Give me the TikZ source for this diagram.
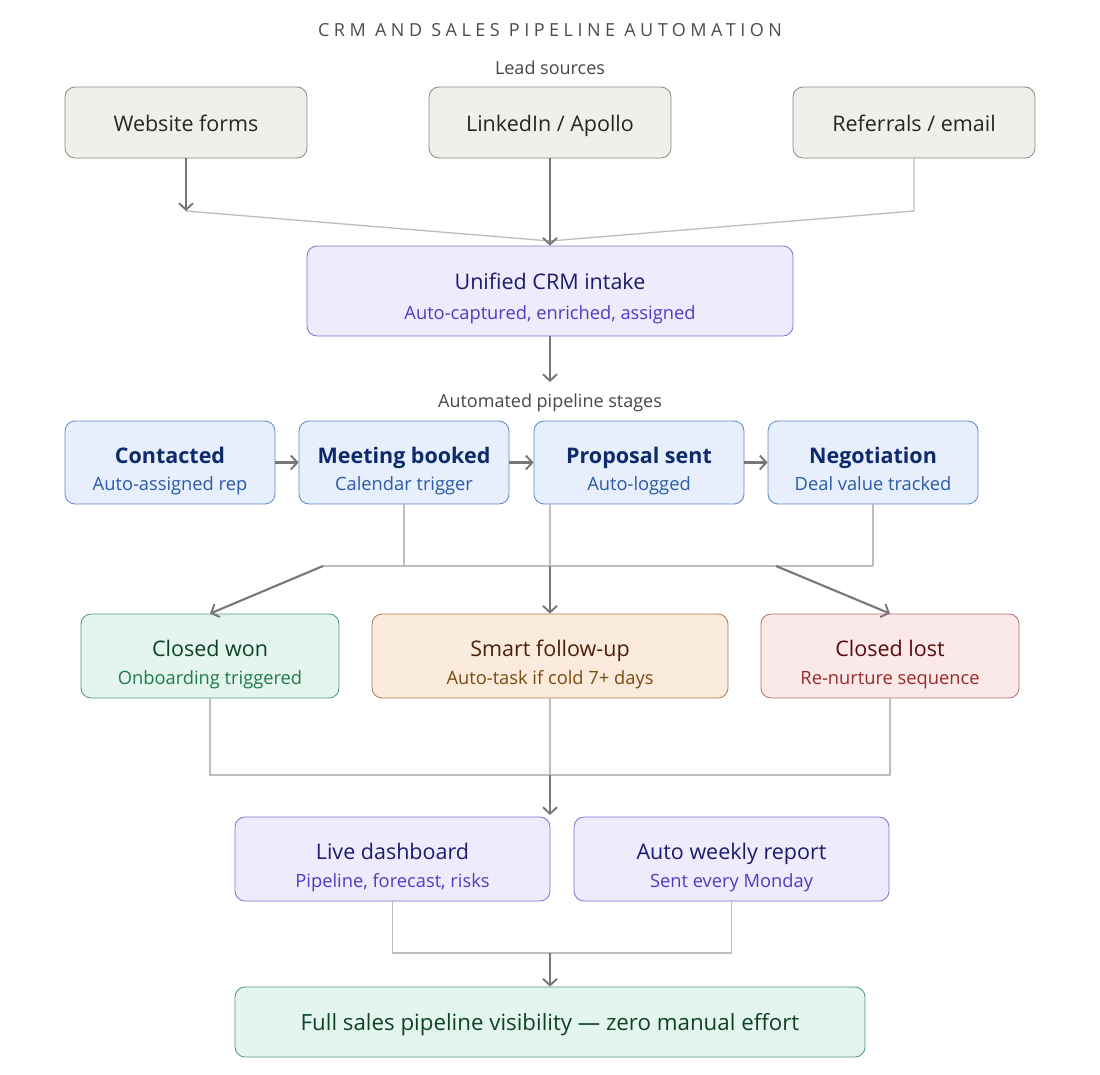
\documentclass[tikz,border=0pt]{standalone}
\usepackage{fontspec}
\setmainfont{Open Sans}
\usetikzlibrary{arrows.meta}
\definecolor{dk}{HTML}{777777}
\definecolor{lt}{HTML}{BDBDBD}
\definecolor{srcfill}{HTML}{F1EFEA}
\definecolor{srcdraw}{HTML}{8C8A86}
\definecolor{lavfill}{HTML}{EEEBFD}
\definecolor{lavdraw}{HTML}{7E72D4}
\definecolor{lavtitle}{HTML}{1E1A6E}
\definecolor{lavsub}{HTML}{4D3DC0}
\definecolor{bluefill}{HTML}{E6EFFB}
\definecolor{bluedraw}{HTML}{5C88C9}
\definecolor{bluetitle}{HTML}{0D2A6B}
\definecolor{bluesub}{HTML}{2A5AA8}
\definecolor{grnfill}{HTML}{E3F5EE}
\definecolor{grndraw}{HTML}{4F9A72}
\definecolor{grntitle}{HTML}{0D4226}
\definecolor{grnsub}{HTML}{1E7A4A}
\definecolor{orfill}{HTML}{FAEBDC}
\definecolor{ordraw}{HTML}{B07A50}
\definecolor{ortitle}{HTML}{4A2008}
\definecolor{orsub}{HTML}{7A4A10}
\definecolor{rdfill}{HTML}{FBE9EA}
\definecolor{rddraw}{HTML}{C0666A}
\definecolor{rdtitle}{HTML}{5A0A0A}
\definecolor{rdsub}{HTML}{9A2A2A}
\begin{document}
\begin{tikzpicture}[x=1pt,y=-1pt,
  box/.style={rounded corners=10pt, line width=0.8pt, inner sep=0pt, align=center},
  src/.style={box, fill=srcfill, draw=srcdraw},
  lav/.style={box, fill=lavfill, draw=lavdraw},
  blu/.style={box, fill=bluefill, draw=bluedraw},
  grn/.style={box, fill=grnfill, draw=grndraw},
  orn/.style={box, fill=orfill, draw=ordraw},
  red/.style={box, fill=rdfill, draw=rddraw},
  txt/.style={anchor=base, inner sep=0pt},
  ttl/.style={txt, font=\fontsize{21.5}{25}\selectfont},
  sub/.style={txt, font=\fontsize{18.3}{22}\selectfont},
  arr/.style={draw=dk, line width=2.1pt, -{Straight Barb[length=6.5pt,width=14pt,line width=1.9pt]}},
  ln/.style={draw=lt, line width=1.3pt},
  lbl/.style={txt, font=\fontsize{18}{22}\selectfont, text=black!72}
]
\useasboundingbox (0,0) rectangle (1100,1074);
\fill[white] (0,0) rectangle (1100,1074);

\node[txt, font=\fontsize{18}{22}\selectfont\addfontfeatures{LetterSpace=25}, text=black!70] (title) at (550,36) {CRM AND SALES PIPELINE AUTOMATION};
\node[lbl] (leadlbl) at (550,74) {Lead sources};

% sources
\node[src, minimum width=242pt, minimum height=71pt] (web) at (186,122.5) {};
\node[src, minimum width=242pt, minimum height=71pt] (lnk) at (550,122.5) {};
\node[src, minimum width=242pt, minimum height=71pt] (ref) at (914,122.5) {};
\node[ttl, text=black!85] (webT) at (186,131) {Website forms};
\node[ttl, text=black!85] (lnkT) at (550,131) {LinkedIn / Apollo};
\node[ttl, text=black!85] (refT) at (914,131) {Referrals / email};

% intake
\node[lav, minimum width=486pt, minimum height=90pt] (crm) at (550,291) {};
\node[ttl, text=lavtitle] (crmT) at (550,289) {Unified CRM intake};
\node[sub, text=lavsub] (crmS) at (550,319) {Auto-captured, enriched, assigned};

\coordinate (webend) at (186,211);
\coordinate (refend) at (914,211);
\coordinate (merge) at (550,241);
\draw[ln] (webend) -- (merge);
\draw[ln] (ref.south) -- (refend) -- (merge);
\draw[arr] (web.south) -- (webend);
\draw[arr] (lnk.south) -- (crm.north);

\node[lbl] (stagelbl) at (550,407) {Automated pipeline stages};
\draw[arr] (crm.south) -- (550,382);

% stages
\foreach \n/\x/\t/\s in {c1/170/Contacted/Auto-assigned rep, c2/404/Meeting booked/Calendar trigger, c3/639/Proposal sent/Auto-logged, c4/873/Negotiation/Deal value tracked}{
  \node[blu, minimum width=210pt, minimum height=83pt] (\n) at (\x,462.5) {};
  \node[ttl, text=bluetitle, font=\fontsize{21.5}{25}\selectfont\bfseries] (\n T) at (\x,463) {\t};
  \node[sub, text=bluesub] (\n S) at (\x,490) {\s};
}
\draw[arr] (c1.east) -- (c2.west);
\draw[arr] (c2.east) -- (c3.west);
\draw[arr] (c3.east) -- (c4.west);

% branch
\coordinate (bl) at (323,566);
\coordinate (bm) at (550,566);
\coordinate (br) at (776,566);
\draw[ln] (c2.south) -- (404,566);
\draw[ln] (550,504) -- (bm);
\draw[ln] (c4.south) -- (873,566);
\draw[ln] (bl) -- (873,566);

% outcomes
\node[grn, minimum width=258pt, minimum height=84pt] (won) at (210,656) {};
\node[ttl, text=grntitle] (wonT) at (210,656) {Closed won};
\node[sub, text=grnsub] (wonS) at (210,684) {Onboarding triggered};
\node[orn, minimum width=356pt, minimum height=84pt] (fol) at (550,656) {};
\node[ttl, text=ortitle] (folT) at (550,656) {Smart follow-up};
\node[sub, text=orsub] (folS) at (550,684) {Auto-task if cold 7+ days};
\node[red, minimum width=258pt, minimum height=84pt] (lost) at (890,656) {};
\node[ttl, text=rdtitle] (lostT) at (890,656) {Closed lost};
\node[sub, text=rdsub] (lostS) at (890,684) {Re-nurture sequence};

\draw[arr] (bl) -- (won.north);
\draw[arr] (bm) -- (fol.north);
\draw[arr] (br) -- (lost.north);

% collect
\coordinate (cm) at (550,775);
\draw[ln] (won.south) -- (210,775) -- (890,775) -- (lost.south);
\draw[ln] (fol.south) -- (cm);

% dashboards
\node[lav, minimum width=315pt, minimum height=84pt] (dash) at (392.5,859) {};
\node[ttl, text=lavtitle] (dashT) at (392.5,859) {Live dashboard};
\node[sub, text=lavsub] (dashS) at (392.5,887) {Pipeline, forecast, risks};
\node[lav, minimum width=315pt, minimum height=84pt] (rep) at (731.5,859) {};
\node[ttl, text=lavtitle] (repT) at (731.5,859) {Auto weekly report};
\node[sub, text=lavsub] (repS) at (731.5,887) {Sent every Monday};

\draw[arr] (cm) -- (550,815);

\coordinate (dm) at (550,953);
\draw[ln] (dash.south) -- (392.5,953) -- (731.5,953) -- (rep.south);

% final
\node[grn, minimum width=630pt, minimum height=70pt] (fin) at (550,1022) {};
\node[ttl, text=grntitle, font=\fontsize{22.3}{26}\selectfont] (finT) at (550,1030) {Full sales pipeline visibility — zero manual effort};
\draw[arr] (dm) -- (fin.north);
\end{tikzpicture}
\end{document}
